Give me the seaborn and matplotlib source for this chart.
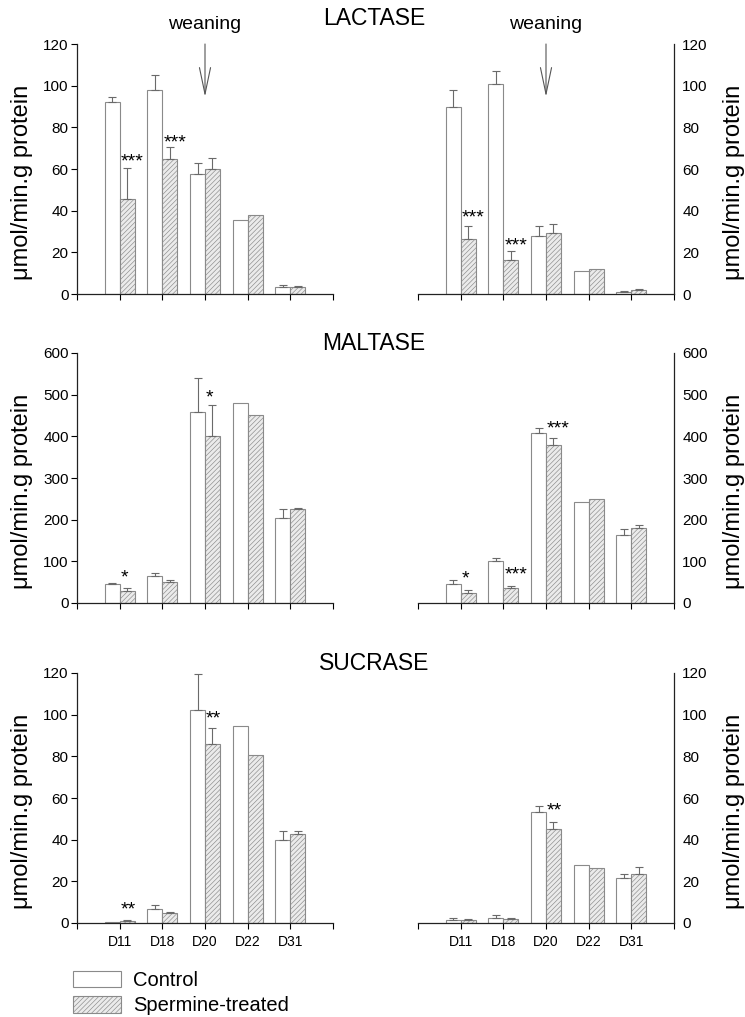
import numpy as np
import pandas as pd
import matplotlib
matplotlib.use("Agg")
import matplotlib.pyplot as plt
from matplotlib.patches import Patch
import seaborn as sns


days = ["D11", "D18", "D20", "D22", "D31"]
groups = ["Control", "Spermine-treated"]

# LACTASE (upper row)
lactase_left_ctrl = [92, 98, 57.5, 35.3, 3.5]
lactase_left_ctrl_err = [2.8, 7.3, 5.3, np.nan, 1.0]
lactase_left_sperm = [45.8, 65, 60, 37.8, 3.3]
lactase_left_sperm_err = [14.5, 5.5, 5.2, np.nan, 0.6]
lactase_left_stars = [("D11", 66.5, "***"), ("D18", 75.5, "***")]

lactase_right_ctrl = [90, 100.7, 28, 11, 1.2]
lactase_right_ctrl_err = [8, 6.4, 4.8, np.nan, 0.3]
lactase_right_sperm = [26.5, 16.2, 29.5, 12, 1.8]
lactase_right_sperm_err = [6, 4.6, 4.2, np.nan, 0.4]
lactase_right_stars = [("D11", 39.5, "***"), ("D18", 26, "***")]

# MALTASE (middle row)
maltase_left_ctrl = [46, 64, 459, 481, 203]
maltase_left_ctrl_err = [2.6, 7, 82, np.nan, 23]
maltase_left_sperm = [30, 51, 400, 450, 226]
maltase_left_sperm_err = [5.5, 5, 74, np.nan, 2]
maltase_left_stars = [("D11", 76, "*"), ("D20", 508, "*")]

maltase_right_ctrl = [46, 101, 409, 243, 163]
maltase_right_ctrl_err = [9, 6, 12, np.nan, 15]
maltase_right_sperm = [23, 36, 378, 249, 181]
maltase_right_sperm_err = [9, 4, 17, np.nan, 6]
maltase_right_stars = [("D11", 73, "*"), ("D18", 82, "***"), ("D20", 434, "***")]

# SUCRASE (lower row)
sucrase_left_ctrl = [0.3, 6.7, 102.3, 94.7, 40]
sucrase_left_ctrl_err = [np.nan, 2.1, 17.2, np.nan, 4]
sucrase_left_sperm = [1.2, 4.8, 85.8, 80.5, 42.7]
sucrase_left_sperm_err = [0.4, 0.5, 8, np.nan, 1.6]
sucrase_left_stars = [("D11", 9.6, "**"), ("D20", 101, "**")]

sucrase_right_ctrl = [1.3, 2.6, 53.4, 28, 21.7]
sucrase_right_ctrl_err = [1.1, 1.1, 2.8, np.nan, 2]
sucrase_right_sperm = [1.6, 1.8, 45, 26.6, 23.7]
sucrase_right_sperm_err = [0.5, 0.8, 3.6, np.nan, 3.3]
sucrase_right_stars = [("D20", 57, "**")]

ylabel = "μmol/min.g protein"

CTRL_FACE = "white"
SPERM_FACE = "#ebebeb"
EDGE = "#8a8a8a"
ERR = "#6a6a6a"
HATCH = "///////"


def draw_panel(ax, ctrl, ctrl_err, sperm, sperm_err, stars, ymax, ystep, side, bottom_row):
    df = pd.DataFrame({
        "day": days * 2,
        "group": [groups[0]] * len(days) + [groups[1]] * len(days),
        "value": ctrl + sperm,
    })
    sns.barplot(data=df, x="day", y="value", hue="group", order=days, hue_order=groups,
                palette=[CTRL_FACE, SPERM_FACE], saturation=1, width=0.7, gap=0,
                errorbar=None, edgecolor=EDGE, linewidth=0.8, legend=False, ax=ax)

    for bar in ax.containers[1]:
        bar.set_hatch(HATCH)

    # only the upper half of each error bar is shown
    for cont, errs in zip(list(ax.containers[:2]), [ctrl_err, sperm_err]):
        xs, ys, es = [], [], []
        for bar, e in zip(cont, errs):
            if np.isnan(e):
                continue
            xs.append(bar.get_x() + bar.get_width() / 2)
            ys.append(bar.get_height())
            es.append(e)
        ax.errorbar(xs, ys, yerr=[np.zeros(len(es)), es], fmt="none", ecolor=ERR,
                    elinewidth=0.8, capsize=3, capthick=0.8, zorder=3)

    for day, y, txt in stars:
        ax.annotate(txt, xy=(days.index(day) + 0.02, y), xytext=(0, -8),
                    textcoords="offset points", ha="left", va="baseline",
                    fontsize=14, annotation_clip=False)

    ax.set_xlim(-1, len(days))
    ax.set_ylim(0, ymax)
    ax.set_yticks(np.arange(0, ymax + 1, ystep))
    ax.set_xticks(range(-1, len(days) + 1))
    if bottom_row:
        ax.set_xticklabels([""] + days + [""])
    else:
        ax.set_xticklabels([""] * (len(days) + 2))
    ax.set_xlabel("")
    ax.set_ylabel(ylabel, fontsize=17)

    ax.tick_params(axis="y", labelsize=11, length=4, width=0.8, pad=2)
    ax.tick_params(axis="x", labelsize=10, length=4, width=0.8, pad=5)

    if side == "right":
        ax.yaxis.tick_right()
        ax.yaxis.set_label_position("right")
        sns.despine(ax=ax, left=True, right=False)
        ax.yaxis.set_label_coords(1.19, 0.448)
    else:
        sns.despine(ax=ax)
        ax.yaxis.set_label_coords(-0.17, 0.448)

    for sp in ax.spines.values():
        sp.set_linewidth(0.9)
        sp.set_color("#222222")


def add_weaning(ax):
    ax.text(2, 127.3, "weaning", ha="center", va="baseline", fontsize=14, clip_on=False)
    ax.annotate("", xy=(2, 94.7), xytext=(2, 120),
                arrowprops=dict(arrowstyle="->,head_length=1.9,head_width=0.4",
                                color="#555555", lw=0.8, shrinkA=0, shrinkB=0,
                                mutation_scale=10),
                annotation_clip=False)


def main():
    sns.set_style("ticks")
    plt.rcParams["font.family"] = ["Liberation Sans", "DejaVu Sans"]
    plt.rcParams["hatch.linewidth"] = 0.45
    for key in ["text.color", "axes.labelcolor", "xtick.color", "ytick.color"]:
        plt.rcParams[key] = "black"

    fig = plt.figure(figsize=(7.45, 10.17), dpi=100)

    W, H = 745, 1017
    lefts = [77 / W, 418 / W]
    width = 256 / W
    height = 250 / H
    bottoms = [1 - 294 / H, 1 - 603 / H, 1 - 923 / H]

    panels = [
        ("LACTASE", 120, 20,
         (lactase_left_ctrl, lactase_left_ctrl_err, lactase_left_sperm, lactase_left_sperm_err, lactase_left_stars),
         (lactase_right_ctrl, lactase_right_ctrl_err, lactase_right_sperm, lactase_right_sperm_err, lactase_right_stars)),
        ("MALTASE", 600, 100,
         (maltase_left_ctrl, maltase_left_ctrl_err, maltase_left_sperm, maltase_left_sperm_err, maltase_left_stars),
         (maltase_right_ctrl, maltase_right_ctrl_err, maltase_right_sperm, maltase_right_sperm_err, maltase_right_stars)),
        ("SUCRASE", 120, 20,
         (sucrase_left_ctrl, sucrase_left_ctrl_err, sucrase_left_sperm, sucrase_left_sperm_err, sucrase_left_stars),
         (sucrase_right_ctrl, sucrase_right_ctrl_err, sucrase_right_sperm, sucrase_right_sperm_err, sucrase_right_stars)),
    ]
    title_baselines = [25, 350, 670]

    for row, (title, ymax, ystep, left_data, right_data) in enumerate(panels):
        bottom_row = row == len(panels) - 1
        ax_l = fig.add_axes([lefts[0], bottoms[row], width, height])
        draw_panel(ax_l, *left_data, ymax, ystep, "left", bottom_row)
        ax_r = fig.add_axes([lefts[1], bottoms[row], width, height])
        draw_panel(ax_r, *right_data, ymax, ystep, "right", bottom_row)
        if row == 0:
            add_weaning(ax_l)
            add_weaning(ax_r)
        fig.text(374 / W, 1 - title_baselines[row] / H, title, ha="center", va="baseline",
                 fontsize=16.5)

    handles = [
        Patch(facecolor=CTRL_FACE, edgecolor=EDGE, linewidth=0.8, label=groups[0]),
        Patch(facecolor=SPERM_FACE, edgecolor=EDGE, linewidth=0.8, hatch=HATCH, label=groups[1]),
    ]
    fig.legend(handles=handles, loc="upper left", bbox_to_anchor=(73 / W, 1 - 971 / H),
               frameon=False, fontsize=14.5, handlelength=2.4, handleheight=0.85,
               handletextpad=0.6, labelspacing=0.32, borderpad=0, borderaxespad=0)

    fig.savefig("out.png", dpi=100)


if __name__ == "__main__":
    main()
